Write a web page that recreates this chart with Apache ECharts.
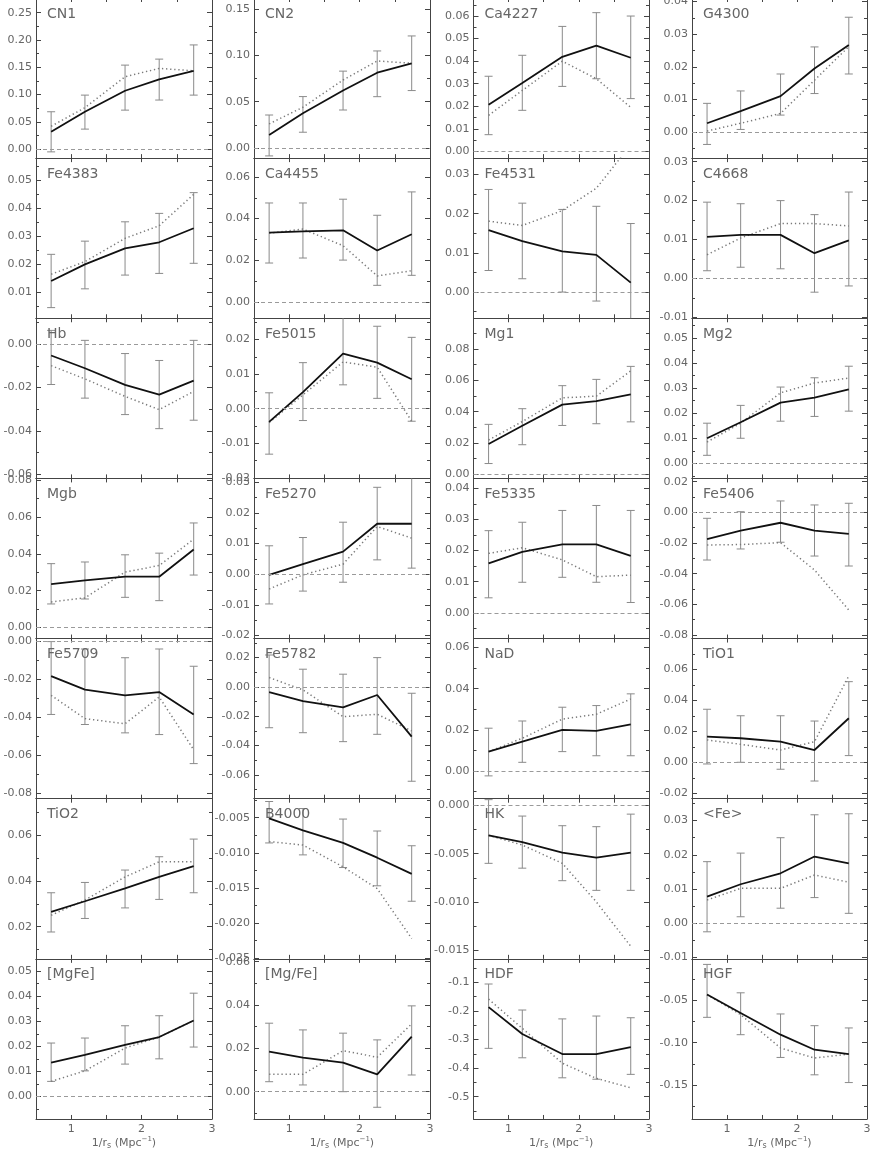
<!DOCTYPE html>
<html><head><meta charset="utf-8">
<script src="https://cdn.jsdelivr.net/npm/echarts@6/dist/echarts.min.js"></script>
<style>html,body{margin:0;padding:0;background:#fff}#c{width:872px;height:1151px}</style>
</head><body><div id="c"></div>
<script>
// ---------- data ----------
const xPos = [0.715, 1.195, 1.765, 2.25, 2.74];
const xTickLabels = [1, 2, 3];
const panelNames = ['CN1','CN2','Ca4227','G4300','Fe4383','Ca4455','Fe4531','C4668','Hb','Fe5015','Mg1','Mg2','Mgb','Fe5270','Fe5335','Fe5406','Fe5709','Fe5782','NaD','TiO1','TiO2','B4000','HK','<Fe>','[MgFe]','[Mg/Fe]','HDF','HGF'];
const yMin = [-0.0165,-0.011,-0.003,-0.008, 0.0008,-0.0078,-0.0067,-0.0102, -0.062,-0.0201,-0.0026,-0.006, -0.006,-0.021,-0.0083,-0.0823, -0.0828,-0.0762,-0.0135,-0.0235, 0.006,-0.0251,-0.0159,-0.0104, -0.009,-0.0126,-0.578,-0.1905];
const yMax = [0.277,0.162,0.068,0.0411, 0.0579,0.069,0.0342,0.0309, 0.012,0.0261,0.0996,0.0578, 0.081,0.0313,0.0432,0.0221, 0.0016,0.033,0.0644,0.0798, 0.0758,-0.0023,0.0007,0.0364, 0.0549,0.0613,-0.018,-0.0005];
const yStep = [0.05,0.05,0.01,0.01, 0.01,0.02,0.01,0.01, 0.02,0.01,0.02,0.01, 0.02,0.01,0.01,0.02, 0.02,0.02,0.02,0.02, 0.02,0.005,0.005,0.01, 0.01,0.02,0.1,0.05];
const yDecimals = [2,2,2,2, 2,2,2,2, 2,2,2,2, 2,2,2,2, 2,2,2,2, 2,3,3,2, 2,2,1,2];
const solidValues = [
 [0.032,0.0685,0.107,0.128,0.1436],
 [0.014,0.0375,0.062,0.0813,0.0915],
 [0.0207,0.0303,0.0419,0.0469,0.0415],
 [0.0027,0.0064,0.011,0.0195,0.0267],
 [0.0141,0.020,0.0257,0.0279,0.0329],
 [0.0333,0.0339,0.0344,0.0247,0.0325],
 [0.0158,0.013,0.0104,0.0095,0.0024],
 [0.0107,0.0112,0.0112,0.0065,0.0098],
 [-0.0052,-0.0111,-0.0188,-0.0233,-0.0168],
 [-0.0038,0.0048,0.0159,0.0133,0.0085],
 [0.0194,0.031,0.0445,0.0467,0.051],
 [0.010,0.0164,0.0242,0.0262,0.0295],
 [0.0236,0.0256,0.0276,0.0276,0.0424],
 [-0.0002,0.0033,0.0074,0.0165,0.0165],
 [0.0159,0.0196,0.022,0.022,0.0183],
 [-0.0174,-0.012,-0.0068,-0.012,-0.0141],
 [-0.0182,-0.0253,-0.0283,-0.0266,-0.0384],
 [-0.0036,-0.0096,-0.0139,-0.0055,-0.0339],
 [0.0094,0.0143,0.020,0.0195,0.0227],
 [0.0165,0.0155,0.0133,0.0079,0.0284],
 [0.0265,0.0311,0.0367,0.0417,0.0464],
 [-0.0051,-0.0068,-0.0086,-0.0107,-0.013],
 [-0.0031,-0.0038,-0.0049,-0.0054,-0.0049],
 [0.0078,0.0114,0.0146,0.0195,0.0175],
 [0.0135,0.0166,0.0206,0.0237,0.0303],
 [0.0185,0.0157,0.0134,0.008,0.0254],
 [-0.187,-0.281,-0.351,-0.351,-0.327],
 [-0.0429,-0.0647,-0.0905,-0.1083,-0.1135]
];
const dottedValues = [
 [0.042,0.076,0.1326,0.148,0.1436],
 [0.026,0.044,0.0734,0.094,0.0915],
 [0.016,0.027,0.040,0.0322,0.0195],
 [0.0003,0.0027,0.0057,0.0159,0.0262],
 [0.0165,0.021,0.0293,0.0338,0.045],
 [0.033,0.035,0.027,0.0125,0.015],
 [0.0181,0.017,0.0208,0.0265,0.0376],
 [0.0061,0.0104,0.0141,0.0141,0.0135],
 [-0.0099,-0.016,-0.0241,-0.0302,-0.0218],
 [-0.004,0.004,0.0135,0.012,-0.0036],
 [0.0219,0.0337,0.0488,0.0499,0.066],
 [0.0085,0.016,0.0281,0.032,0.034],
 [0.0139,0.0161,0.0301,0.0337,0.048],
 [-0.0048,-0.0002,0.0033,0.0156,0.0118],
 [0.0191,0.0209,0.017,0.0116,0.0121],
 [-0.0213,-0.021,-0.0198,-0.0376,-0.0637],
 [-0.0283,-0.0406,-0.0433,-0.0292,-0.057],
 [0.0064,-0.002,-0.0203,-0.0186,-0.030],
 [0.0094,0.0159,0.0252,0.0276,0.035],
 [0.0144,0.0116,0.0079,0.0133,0.0557],
 [0.025,0.0316,0.0417,0.0483,0.0483],
 [-0.0084,-0.0089,-0.012,-0.0151,-0.0222],
 [-0.0031,-0.0041,-0.006,-0.010,-0.0146],
 [0.0068,0.0102,0.0102,0.0141,0.012],
 [0.006,0.0102,0.0193,0.0237,0.0303],
 [0.008,0.008,0.0189,0.0159,0.0313],
 [-0.159,-0.261,-0.383,-0.436,-0.469],
 [-0.043,-0.0667,-0.1063,-0.1182,-0.1135]
];
const errLow = [
 [-0.005,0.0367,0.0715,0.090,0.099],
 [-0.0086,0.017,0.041,0.0554,0.062],
 [0.0074,0.0182,0.0288,0.0322,0.0234],
 [-0.0038,0.0008,0.0052,0.0118,0.0178],
 [0.0046,0.0113,0.0162,0.0168,0.0204],
 [0.0187,0.0211,0.0201,0.008,0.0128],
 [0.0055,0.0034,0.0000,-0.0023,-0.012],
 [0.002,0.0029,0.0025,-0.0035,-0.0019],
 [-0.0186,-0.0249,-0.0325,-0.039,-0.0351],
 [-0.0131,-0.0034,0.0069,0.003,-0.0036],
 [0.0069,0.0189,0.0312,0.0323,0.0335],
 [0.0032,0.010,0.0168,0.0187,0.0208],
 [0.0128,0.0155,0.0164,0.0146,0.0285],
 [-0.0097,-0.0055,-0.0026,0.0047,0.002],
 [0.0048,0.0098,0.0114,0.0098,0.0033],
 [-0.0311,-0.0239,-0.0195,-0.0285,-0.035],
 [-0.0384,-0.0437,-0.0481,-0.049,-0.0643],
 [-0.0278,-0.0312,-0.0373,-0.0323,-0.0643],
 [-0.0024,0.0042,0.0094,0.0074,0.0074],
 [-0.0011,0.0,-0.0045,-0.0121,0.0043],
 [0.0177,0.0236,0.0282,0.0319,0.0348],
 [-0.0086,-0.0103,-0.0121,-0.0147,-0.0169],
 [-0.006,-0.0065,-0.0078,-0.0088,-0.0088],
 [-0.0025,0.0019,0.0044,0.0075,0.0029],
 [0.006,0.0102,0.0129,0.015,0.0197],
 [0.0046,0.0031,0.0,-0.0072,0.0077],
 [-0.331,-0.364,-0.434,-0.439,-0.422],
 [-0.0699,-0.0905,-0.1175,-0.1381,-0.1473]
];
const errHigh = [
 [0.0685,0.099,0.154,0.165,0.191],
 [0.0356,0.0555,0.083,0.1048,0.121],
 [0.0333,0.0426,0.0554,0.0615,0.060],
 [0.0088,0.0126,0.0178,0.0261,0.0352],
 [0.0236,0.0283,0.0352,0.0382,0.0456],
 [0.0475,0.0475,0.0493,0.0416,0.0528],
 [0.0262,0.0227,0.0211,0.0219,0.0175],
 [0.0196,0.0192,0.020,0.0164,0.0222],
 [0.0064,0.0018,-0.0043,-0.0075,0.0018],
 [0.0046,0.0133,0.027,0.0238,0.0206],
 [0.0319,0.0419,0.0566,0.0606,0.0689],
 [0.016,0.0231,0.0304,0.0341,0.0387],
 [0.0347,0.0356,0.0395,0.0404,0.0568],
 [0.0093,0.012,0.017,0.0284,0.032],
 [0.0264,0.0291,0.0329,0.0345,0.0329],
 [-0.0039,0.0004,0.0074,0.0048,0.0059],
 [0.0,-0.0039,-0.0085,-0.0039,-0.013],
 [0.0218,0.0121,0.0087,0.020,-0.0043],
 [0.0208,0.0243,0.031,0.0318,0.0375],
 [0.0342,0.030,0.030,0.0266,0.052],
 [0.0348,0.0393,0.0447,0.0505,0.0582],
 [-0.0027,-0.0037,-0.0052,-0.0069,-0.009],
 [0.0006,-0.0011,-0.0021,-0.0022,-0.0009],
 [0.018,0.0205,0.025,0.0317,0.032],
 [0.0213,0.0233,0.0282,0.0322,0.0412],
 [0.0316,0.0285,0.027,0.0239,0.0396],
 [-0.106,-0.197,-0.228,-0.218,-0.224],
 [-0.0071,-0.0408,-0.0659,-0.0798,-0.0825]
];

// ---------- layout / style ----------
const colLeft = [36, 254, 473.5, 692];
const colW = [176, 176, 175.5, 175];
const rowTop0 = -2, rowH = 160.14;
const FRAME = '#444', TXT = '#666', FONT = 'DejaVu Sans';

function ticksFor(min, max, step, offset) {
  const out = [];
  const k0 = Math.ceil(min / step - offset - 1e-9), k1 = Math.floor(max / step - offset + 1e-9);
  for (let k = k0; k <= k1; k++) out.push(+((k + offset) * step).toFixed(6));
  return out;
}

const grid = [], xAxis = [], yAxis = [], series = [], title = [];
for (let i = 0; i < panelNames.length; i++) {
  const r = Math.floor(i / 4), c = i % 4;
  const top = rowTop0 + r * rowH;
  grid.push({left: colLeft[c], top: top, width: colW[c], height: rowH, containLabel: false, outerBoundsMode: 'none'});
  title.push({text: panelNames[i], left: colLeft[c] + 6, top: top + 4,
    textStyle: {fontSize: 14, fontWeight: 'normal', color: TXT, fontFamily: FONT}});
  const last = r === 6;
  const xBase = {type: 'value', gridIndex: i, min: 0.5, max: 3, splitLine: {show: false},
    axisLine: {show: true, onZero: false, lineStyle: {color: FRAME, width: 1}},
    axisTick: {show: true, inside: true, length: 4, customValues: [1, 1.5, 2, 2.5], lineStyle: {color: FRAME}}};
  xAxis.push(Object.assign({}, xBase, {position: 'bottom',
    axisLabel: {show: last, customValues: xTickLabels, margin: 5, fontSize: 11, color: TXT, fontFamily: FONT},
    name: last ? '{a|1/r}{s|s}{a| (Mpc}{p|−1}{a|)}' : '', nameLocation: 'middle', nameGap: 17,
    nameTextStyle: {rich: {
      a: {fontSize: 11, color: TXT, fontFamily: FONT, lineHeight: 14},
      s: {fontSize: 8, color: TXT, fontFamily: FONT, lineHeight: 8, verticalAlign: 'bottom'},
      p: {fontSize: 7, color: TXT, fontFamily: FONT, lineHeight: 7, verticalAlign: 'top'}}}}));
  xAxis.push(Object.assign({}, xBase, {position: 'top', axisLabel: {show: false}}));

  const majors = ticksFor(yMin[i], yMax[i], yStep[i], 0);
  const minors = ticksFor(yMin[i], yMax[i], yStep[i], 0.5);
  const dec = yDecimals[i];
  const yBase = {type: 'value', gridIndex: i, min: yMin[i], max: yMax[i], splitLine: {show: false}};
  yAxis.push(Object.assign({}, yBase, {position: 'left',
    axisLine: {show: true, onZero: false, lineStyle: {color: FRAME, width: 1}},
    axisTick: {show: true, inside: true, length: 5, customValues: majors, lineStyle: {color: FRAME}},
    axisLabel: {show: true, customValues: majors, margin: 4, fontSize: 11, color: TXT, fontFamily: FONT,
      formatter: v => Number(v).toFixed(dec)}}));
  yAxis.push(Object.assign({}, yBase, {position: 'right',
    axisLine: {show: true, onZero: false, lineStyle: {color: FRAME, width: 1}},
    axisTick: {show: true, inside: true, length: 5, customValues: majors, lineStyle: {color: FRAME}},
    axisLabel: {show: false}}));
  ['left', 'right'].forEach(pos => yAxis.push(Object.assign({}, yBase, {position: pos,
    axisLine: {show: false},
    axisTick: {show: true, inside: true, length: 3, customValues: minors, lineStyle: {color: FRAME}},
    axisLabel: {show: false}})));

  const xi = 2 * i, yi = 4 * i;
  series.push({type: 'custom', xAxisIndex: xi, yAxisIndex: yi, clip: true, z: 2, silent: true,
    data: xPos.map((x, k) => [x, errLow[i][k], errHigh[i][k]]),
    encode: {x: 0, y: [1, 2]},
    renderItem: function (params, api) {
      const x = api.value(0);
      const a = api.coord([x, api.value(1)]), b = api.coord([x, api.value(2)]);
      const w = 4, st = {stroke: '#8a8a8a', lineWidth: 1};
      return {type: 'group', children: [
        {type: 'line', shape: {x1: a[0], y1: a[1], x2: b[0], y2: b[1]}, style: st},
        {type: 'line', shape: {x1: a[0] - w, y1: a[1], x2: a[0] + w, y2: a[1]}, style: st},
        {type: 'line', shape: {x1: b[0] - w, y1: b[1], x2: b[0] + w, y2: b[1]}, style: st}]};
    }});
  const dotted = {type: 'line', xAxisIndex: xi, yAxisIndex: yi, z: 3, silent: true, symbol: 'none',
    data: xPos.map((x, k) => [x, dottedValues[i][k]]),
    lineStyle: {color: '#7a7a7a', width: 1.5, type: [1.3, 2.8]}};
  if (yMin[i] < 0 && yMax[i] > 0) {
    dotted.markLine = {silent: true, symbol: ['none', 'none'], label: {show: false},
      lineStyle: {color: '#9a9a9a', width: 1, type: [4, 3]}, data: [{yAxis: 0}], animation: false};
  }
  series.push(dotted);
  series.push({type: 'line', xAxisIndex: xi, yAxisIndex: yi, z: 4, silent: true, symbol: 'none',
    data: xPos.map((x, k) => [x, solidValues[i][k]]),
    lineStyle: {color: '#111', width: 1.8}});
}

const chart = echarts.init(document.getElementById('c'));
chart.setOption({animation: false, backgroundColor: '#fff', title, grid, xAxis, yAxis, series});
</script></body></html>
